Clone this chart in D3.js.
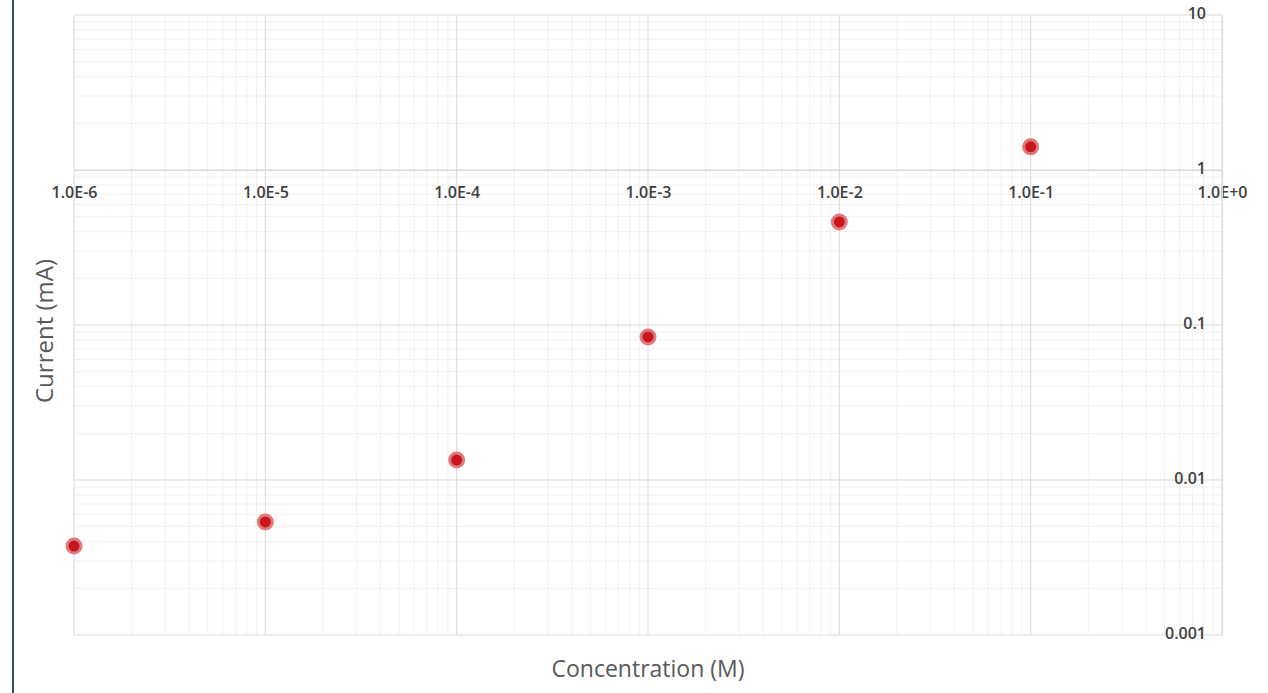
<!DOCTYPE html>
<html>
<head>
<meta charset="utf-8">
<script src="https://cdn.jsdelivr.net/npm/d3@7"></script>
<style>
  body { margin: 0; background: #fff; }
  svg { display: block; }
  text { font-family: "Open Sans", "Noto Sans", sans-serif; }
</style>
</head>
<body>
<div id="chart"></div>
<script>
// concentration (M) vs measured current (mA)
const concentration = [1e-6, 1e-5, 1e-4, 1e-3, 1e-2, 1e-1];
const current = [0.00375, 0.00536, 0.01345, 0.0837, 0.462, 1.41];

const xTicks = [1e-6, 1e-5, 1e-4, 1e-3, 1e-2, 1e-1, 1e0];
const xTickLabels = ["1.0E-6", "1.0E-5", "1.0E-4", "1.0E-3", "1.0E-2", "1.0E-1", "1.0E+0"];
const yTicks = [0.001, 0.01, 0.1, 1, 10];
const yTickLabels = ["0.001", "0.01", "0.1", "1", "10"];

const width = 1268;
const height = 693;
const margin = { top: 15, right: 46, bottom: 58, left: 74 };

const svg = d3.select('#chart')
  .append('svg')
  .attr('width', width)
  .attr('height', height);

// the dark frame edge on the left of the screenshot
svg.append('line')
  .attr('x1', 13).attr('x2', 13)
  .attr('y1', 0).attr('y2', height)
  .attr('stroke', '#3b4a6b')
  .attr('stroke-width', 2);

const x = d3.scaleLog()
  .domain([1e-6, 1])
  .range([margin.left, width - margin.right]);

const y = d3.scaleLog()
  .domain([0.001, 10])
  .range([height - margin.bottom, margin.top]);

// minor grid: 2..9 within each decade
const minorX = [];
xTicks.slice(0, -1).forEach(d => { for (let k = 2; k < 10; k++) minorX.push(d * k); });
const minorY = [];
yTicks.slice(0, -1).forEach(d => { for (let k = 2; k < 10; k++) minorY.push(d * k); });

const grid = svg.append('g');

grid.selectAll('.minor-x')
  .data(minorX)
  .enter().append('line')
  .attr('x1', d => x(d)).attr('x2', d => x(d))
  .attr('y1', y.range()[1]).attr('y2', y.range()[0])
  .attr('stroke', '#f0f0f0')
  .attr('stroke-width', 1);

grid.selectAll('.minor-y')
  .data(minorY)
  .enter().append('line')
  .attr('y1', d => y(d)).attr('y2', d => y(d))
  .attr('x1', x.range()[0]).attr('x2', x.range()[1])
  .attr('stroke', '#f0f0f0')
  .attr('stroke-width', 1);

grid.selectAll('.major-x')
  .data(xTicks)
  .enter().append('line')
  .attr('x1', d => x(d)).attr('x2', d => x(d))
  .attr('y1', y.range()[1]).attr('y2', y.range()[0])
  .attr('stroke', '#d9d9d9')
  .attr('stroke-width', 1);

grid.selectAll('.major-y')
  .data(yTicks)
  .enter().append('line')
  .attr('y1', d => y(d)).attr('y2', d => y(d))
  .attr('x1', x.range()[0]).attr('x2', x.range()[1])
  .attr('stroke', '#d9d9d9')
  .attr('stroke-width', 1);

// x axis crosses at y = 1, y axis crosses at x = 1
const xAxis = d3.axisBottom(x)
  .tickValues(xTicks)
  .tickSize(0)
  .tickPadding(17)
  .tickFormat((d, i) => xTickLabels[i]);

const yAxis = d3.axisLeft(y)
  .tickValues(yTicks)
  .tickSize(0)
  .tickPadding(16)
  .tickFormat((d, i) => yTickLabels[i]);

const gx = svg.append('g')
  .attr('transform', `translate(0,${y(1)})`)
  .call(xAxis);

const gy = svg.append('g')
  .attr('transform', `translate(${x(1)},0)`)
  .call(yAxis);

[gx, gy].forEach(g => {
  g.select('.domain').attr('stroke', '#d9d9d9');
  g.selectAll('text')
    .attr('fill', '#404040')
    .attr('font-size', 16)
    .attr('font-weight', 600);
});
gy.selectAll('text').attr('dy', '0.2em');

// axis titles
svg.append('text')
  .attr('transform', `translate(53,${(margin.top + height - margin.bottom) / 2 + 6}) rotate(-90)`)
  .attr('text-anchor', 'middle')
  .attr('fill', '#595959')
  .attr('font-size', 24)
  .text('Current (mA)');

svg.append('text')
  .attr('x', (x.range()[0] + x.range()[1]) / 2)
  .attr('y', 677)
  .attr('text-anchor', 'middle')
  .attr('fill', '#595959')
  .attr('font-size', 23)
  .text('Concentration (M)');

// data markers
const points = concentration.map((c, i) => ({ c, v: current[i] }));

svg.selectAll('.dot')
  .data(points)
  .enter().append('circle')
  .attr('cx', d => x(d.c))
  .attr('cy', d => y(d.v))
  .attr('r', 7)
  .attr('fill', '#c8161c')
  .attr('stroke', '#e07a7c')
  .attr('stroke-width', 3);
</script>
</body>
</html>
